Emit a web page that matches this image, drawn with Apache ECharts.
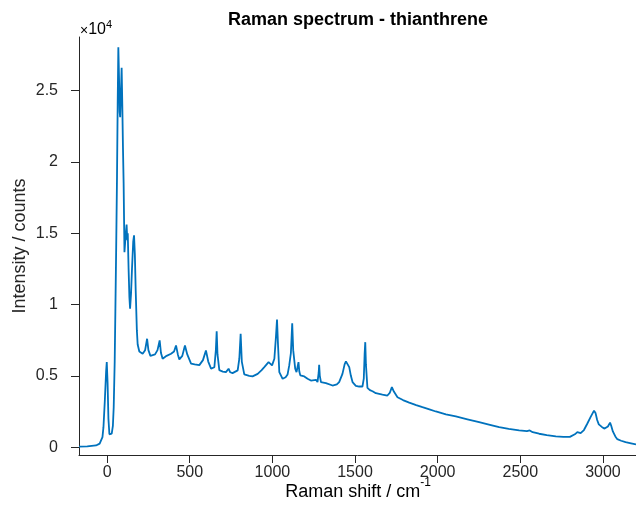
<!DOCTYPE html>
<html>
<head>
<meta charset="utf-8">
<script src="https://cdn.jsdelivr.net/npm/echarts@6/dist/echarts.min.js"></script>
<style>
html,body{margin:0;padding:0;background:#fff;}
#chart{width:636px;height:523px;}
</style>
</head>
<body>
<div id="chart"></div>
<script>
// Raman shift (cm^-1)
const shift = [-170,-120,-67,-45,-36,-28,-22,-14,-6,-2,3,8,14,22,28,35,40,46,50,55,60,64,68,72,76,79,84,88,92,96,100,105,112,118,122,125,130,135,139,145,151,158,163,168,173,180,185,195,215,230,242,250,262,290,305,318,326,336,360,387,405,417,428,437,455,471,485,508,530,558,580,598,612,629,649,658,663,668,679,700,719,735,745,759,790,800,808,815,830,860,880,911,935,951,977,998,1012,1022,1028,1034,1042,1062,1080,1092,1102,1112,1120,1126,1138,1146,1152,1158,1163,1169,1193,1213,1233,1264,1273,1280,1283,1287,1294,1324,1364,1390,1404,1424,1437,1445,1455,1465,1475,1485,1505,1525,1545,1553,1558,1562,1566,1575,1590,1606,1626,1646,1666,1696,1710,1723,1735,1757,1790,1828,1870,1908,1950,1989,2050,2110,2180,2251,2310,2372,2430,2493,2540,2557,2575,2614,2660,2715,2760,2800,2830,2845,2865,2885,2905,2925,2946,2955,2965,2975,2995,3010,3030,3043,3050,3060,3075,3087,3110,3137,3170,3200];
// Intensity (counts)
const counts = [30,60,120,250,350,700,1400,3200,5300,5960,4500,2000,900,800,940,1500,2800,6000,9500,14000,19000,24000,28030,26000,23500,23130,25000,26590,24000,21000,18500,13670,14800,15600,14500,15000,12500,10500,9700,10800,12600,14400,14850,13500,11000,8200,7200,6700,6550,6800,7600,6800,6400,6500,6800,7480,6600,6200,6400,6550,6700,7130,6500,6150,6400,7130,6500,5850,5800,5750,6100,6780,6000,5500,5600,6800,8130,6500,5400,5300,5260,5500,5250,5190,5380,6200,7950,6000,5100,5000,4960,5140,5400,5610,5960,5730,6200,7800,8950,7200,5260,4790,4900,5100,5730,6600,8690,6800,5500,5260,5600,5960,5300,5030,4960,4800,4670,4720,4560,5200,5770,5000,4560,4490,4320,4400,4560,5140,5800,6010,5900,5610,5000,4560,4300,4250,4250,4800,6500,7360,5800,4160,4000,3920,3780,3740,3690,3620,3800,4210,3900,3500,3300,3120,2950,2800,2650,2500,2300,2150,1950,1750,1580,1400,1280,1170,1120,1170,1050,940,840,750,720,720,900,1050,980,1200,1640,2100,2560,2400,1900,1600,1400,1300,1450,1720,1500,1100,750,560,450,350,270,190];
// Tick values
const xTicks = [0,500,1000,1500,2000,2500,3000];
const yTicks = [0,5000,10000,15000,20000,25000];

const data = shift.map((s,i)=>[s,counts[i]]);
const axisColor = '#262626';
const font = 'Liberation Sans, Arial, Helvetica, sans-serif';

const chart = echarts.init(document.getElementById('chart'), null, {renderer:'canvas'});
chart.setOption({
  animation:false,
  backgroundColor:'#ffffff',
  grid:{left:79,right:0,top:37,bottom:68,containLabel:false},
  xAxis:{
    type:'value',min:-170,max:3200,
    axisLine:{show:true,onZero:false,lineStyle:{color:axisColor,width:1}},
    axisTick:{show:true,inside:false,length:8,lineStyle:{color:axisColor},customValues:xTicks},
    axisLabel:{show:true,margin:10,color:axisColor,fontSize:16,fontFamily:font,customValues:xTicks,
      formatter:v=>String(v)},
    splitLine:{show:false}
  },
  yAxis:{
    type:'value',min:-550,max:28750,
    axisLine:{show:true,onZero:false,lineStyle:{color:axisColor,width:1}},
    axisTick:{show:true,inside:false,length:8,lineStyle:{color:axisColor},customValues:yTicks},
    axisLabel:{show:true,margin:21,color:axisColor,fontSize:16,fontFamily:font,customValues:yTicks,
      formatter:v=>String(v/10000)},
    splitLine:{show:false}
  },
  series:[{
    type:'line',data:data,showSymbol:false,smooth:false,
    lineStyle:{color:'#0072BD',width:1.8},
    clip:true
  }],
  graphic:[
    {type:'text',x:358,y:20,style:{text:'Raman spectrum - thianthrene',align:'center',verticalAlign:'middle',
      font:'bold 18px '+font,fill:'#000'}},
    {type:'text',x:80,y:19,style:{text:'{a|×}{b|10}{s|4}',rich:{
      a:{fontSize:14,fontFamily:font,color:axisColor,verticalAlign:'bottom',lineHeight:19},
      b:{fontSize:16,fontFamily:font,color:axisColor,verticalAlign:'bottom',lineHeight:19},
      s:{fontSize:11,fontFamily:font,color:axisColor,verticalAlign:'top',lineHeight:19}
    }}},
    {type:'text',x:358,y:489,style:{text:'{a|Raman shift / cm}{s|-1}',align:'center',verticalAlign:'middle',rich:{
      a:{fontSize:18,fontFamily:font,color:axisColor,verticalAlign:'bottom',lineHeight:24},
      s:{fontSize:12,fontFamily:font,color:axisColor,verticalAlign:'top',lineHeight:24}
    }}},
    {type:'text',x:20,y:246,rotation:Math.PI/2,style:{text:'Intensity / counts',align:'center',verticalAlign:'middle',
      font:'18px '+font,fill:axisColor}}
  ]
});
</script>
</body>
</html>
